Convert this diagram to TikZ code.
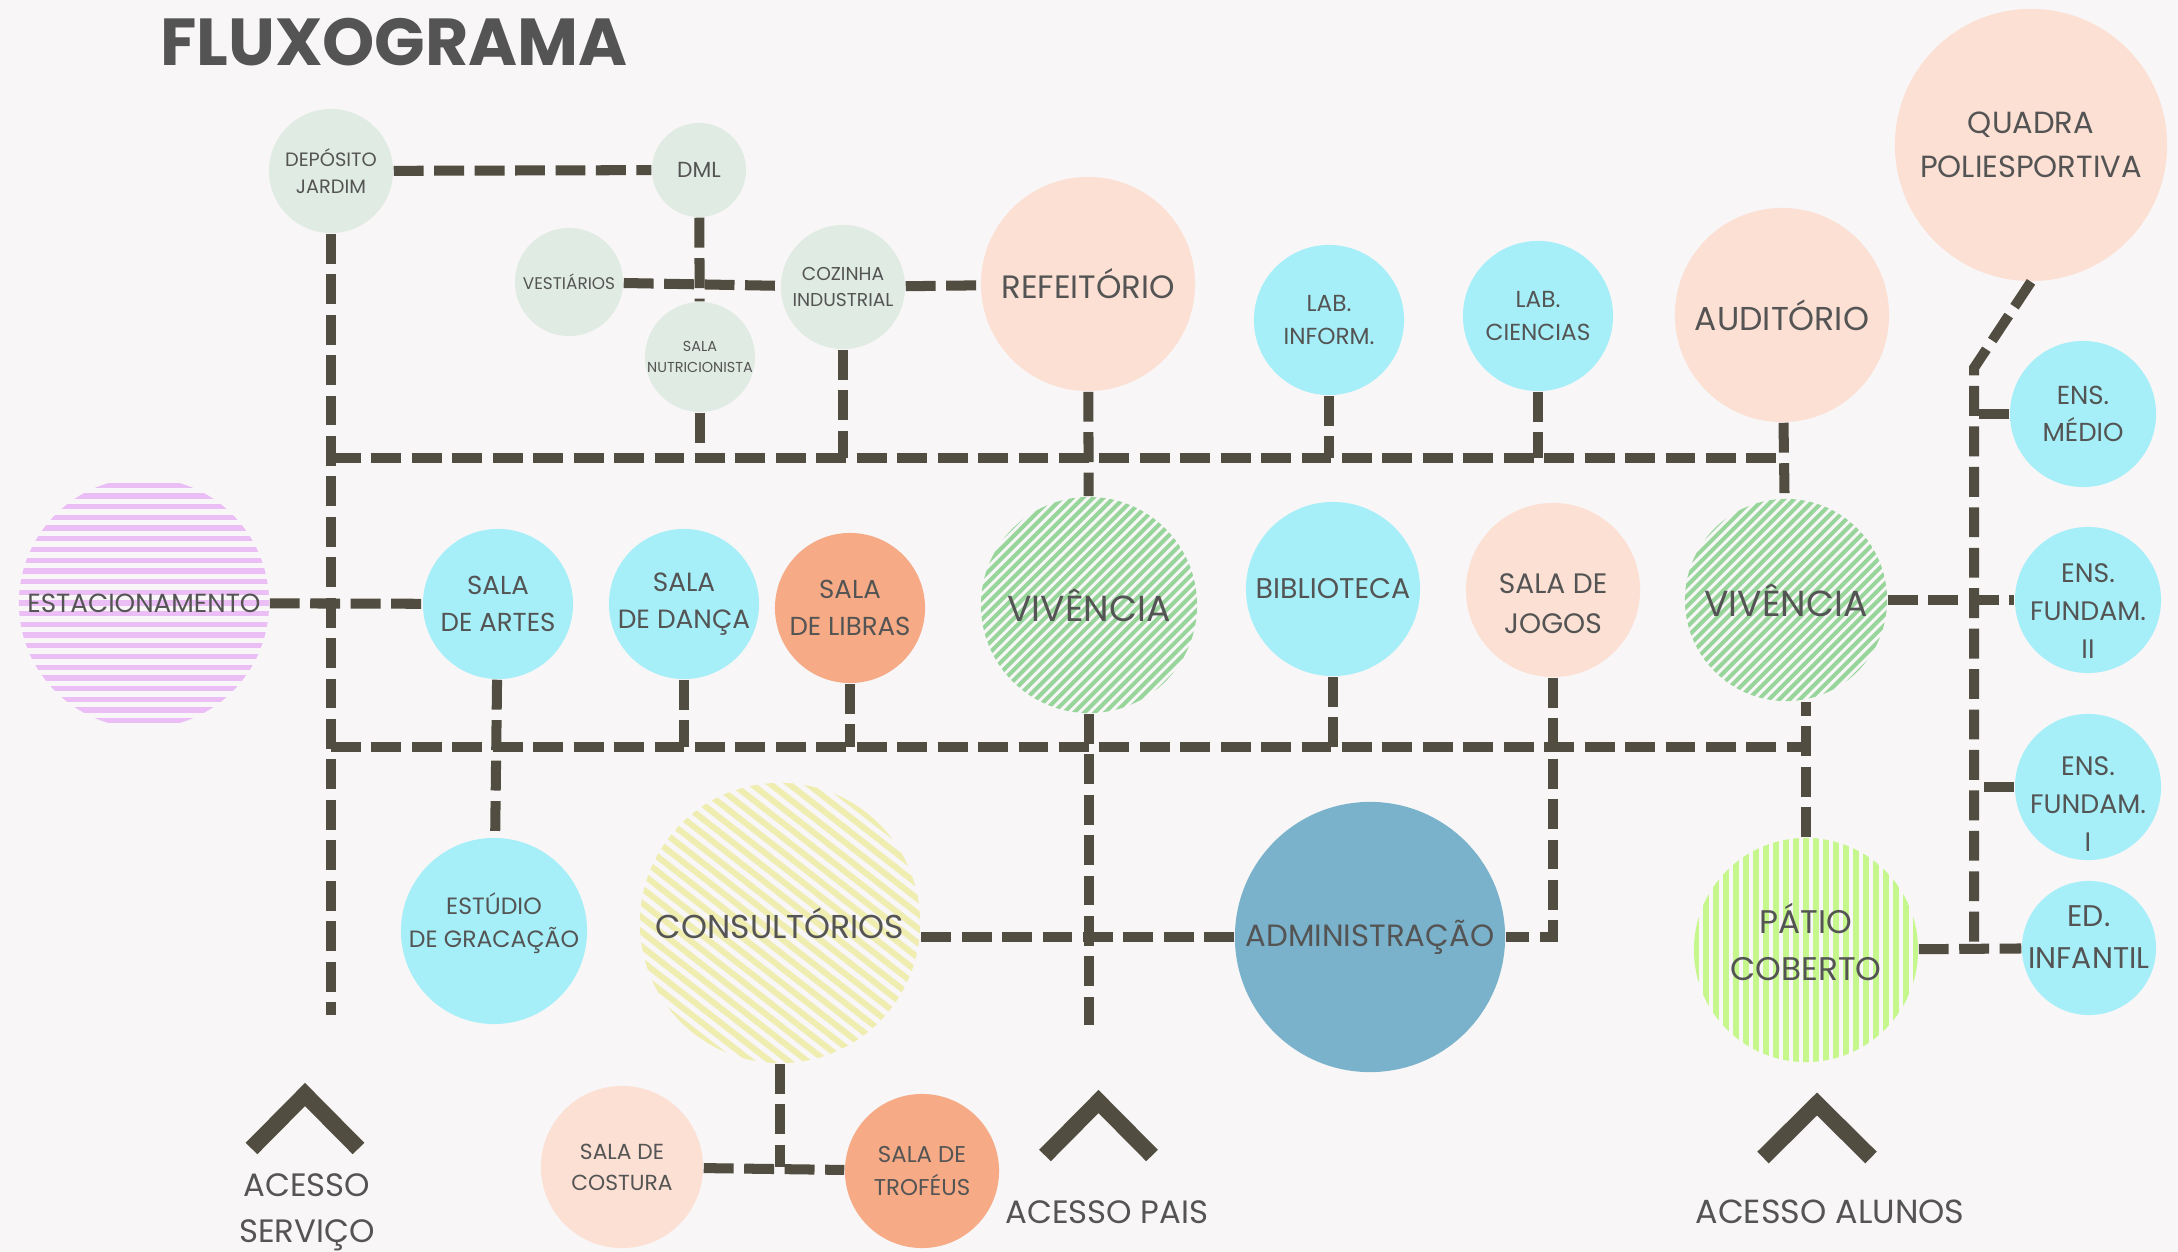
\documentclass[tikz,border=0pt]{standalone}
\usepackage{fontspec}
\setmainfont{Poppins}
\usepackage{tikz}

\definecolor{fundo}{RGB}{248,246,247}
\definecolor{linha}{RGB}{81,77,64}
\definecolor{texto}{RGB}{84,84,84}
\definecolor{servico}{RGB}{224,235,228}
\definecolor{pessego}{RGB}{252,224,212}
\definecolor{ciano}{RGB}{166,239,248}
\definecolor{salmao}{RGB}{246,171,134}
\definecolor{azul}{RGB}{122,178,203}
\definecolor{verde}{RGB}{152,213,155}
\definecolor{amarelo}{RGB}{239,237,176}
\definecolor{lima}{RGB}{197,247,141}
\definecolor{lilas}{RGB}{236,190,246}

\newcommand{\fsz}[1]{\pgfmathsetmacro\lsk{1.43*#1}\fontsize{#1}{\lsk}\selectfont}

\begin{document}
\begin{tikzpicture}[x=0.01cm, y=-0.01cm,
    sala/.style={circle, inner sep=0pt, minimum size=#1*0.02cm, align=center, text=texto},
    ligacao/.style={draw=linha, line width=2.85pt, dash pattern=on 8.5pt off 3pt},
    seta/.style={draw=linha, line width=4.64pt},
    rotulo/.style={align=center, text=texto},
    diagverde/.style={fill=fundo, path picture={
        \foreach \k in {-16,...,16}
            \draw[verde, line width=1.15pt] ([shift={(\k*10.3-150,150)}]path picture bounding box.center) -- ++(300,-300);}},
    diagamarelo/.style={fill=fundo, path picture={
        \foreach \k in {-13,...,13}
            \draw[amarelo, line width=1.7pt] ([shift={(-200,\k*14.6-156)}]path picture bounding box.center) -- ++(400,312);}},
    vertlima/.style={fill=fundo, path picture={
        \foreach \k in {-12,...,12}
            \draw[lima, line width=1.56pt] ([shift={(\k*10,-130)}]path picture bounding box.center) -- ++(0,260);}},
    horizlilas/.style={fill=fundo, path picture={
        \foreach \k in {-12,...,12}
            \draw[lilas, line width=1.5pt] ([shift={(-140,\k*10.7)}]path picture bounding box.center) -- ++(280,0);}}]

    \fill[fundo] (0,0) rectangle (2178,1252);
    \useasboundingbox (0,0) rectangle (2178,1252);

    \node[text=texto, font=\bfseries\fsz{18.9}] (titulo) at (394,42) {FLUXOGRAMA};

    \node[sala=62, fill=servico, font=\fsz{5.5}] (deposito) at (331,171) {DEPÓSITO\\JARDIM};
    \node[sala=47, fill=servico, font=\fsz{6.2}] (dml) at (699,170) {DML};
    \node[sala=54, fill=servico, font=\fsz{4.8}] (vestiarios) at (569,282) {VESTIÁRIOS};
    \node[sala=51, fill=servico, font=\fsz{4.1}] (nutri) at (700,357) {SALA\\NUTRICIONISTA};
    \node[sala=62, fill=servico, font=\fsz{5.3}] (cozinha) at (843,287) {COZINHA\\INDUSTRIAL};
    \node[sala=107, fill=pessego, font=\fsz{9.2}] (refeitorio) at (1088,284) {REFEITÓRIO};
    \node[sala=75, fill=ciano, font=\fsz{6.6}] (labinf) at (1329,320) {LAB.\\INFORM.};
    \node[sala=75, fill=ciano, font=\fsz{6.6}] (labcien) at (1538,316) {LAB.\\CIENCIAS};
    \node[sala=107, fill=pessego, font=\fsz{9.4}] (auditorio) at (1782,315) {AUDITÓRIO};
    \node[sala=136, fill=pessego, font=\fsz{8.7}] (quadra) at (2031,145) {QUADRA\\POLIESPORTIVA};
    \node[sala=73, fill=ciano, font=\fsz{7.4}] (medio) at (2083,414) {ENS.\\MÉDIO};

    \node[sala=125, horizlilas, font=\fsz{7.45}] (estac) at (144,603) {ESTACIONAMENTO};
    \node[sala=75, fill=ciano, font=\fsz{7.4}] (artes) at (498,604) {SALA\\DE ARTES};
    \node[sala=75, fill=ciano, font=\fsz{7.5}] (danca) at (684,604) {SALA\\DE DANÇA};
    \node[sala=75, fill=salmao, font=\fsz{7.4}] (libras) at (850,608) {SALA\\DE LIBRAS};
    \node[sala=108, diagverde, font=\fsz{10.3}] (vivenciaA) at (1089,605) {VIVÊNCIA};
    \node[sala=87, fill=ciano, font=\fsz{8.1}] (biblioteca) at (1333,589) {BIBLIOTECA};
    \node[sala=87, fill=pessego, label={[rotulo, font=\fsz{8}, yshift=-0.14cm]center:{SALA DE\\JOGOS}}] (jogos) at (1553,590) {};
    \node[sala=101, diagverde, font=\fsz{10.3}] (vivenciaB) at (1786,600) {VIVÊNCIA};
    \node[sala=73, fill=ciano, label={[rotulo, font=\fsz{7.6}, yshift=-0.11cm]center:{ENS.\\FUNDAM.\\II}}] (fundII) at (2088,600) {};
    \node[sala=73, fill=ciano, label={[rotulo, font=\fsz{7.6}, yshift=-0.17cm]center:{ENS.\\FUNDAM.\\I}}] (fundI) at (2088,787) {};

    \node[sala=93, fill=ciano, label={[rotulo, font=\fsz{6.7}, yshift=0.08cm]center:{ESTÚDIO\\DE GRACAÇÃO}}] (estudio) at (494,931) {};
    \node[sala=140, diagamarelo, font=\fsz{9.4}] (consult) at (780,923) {CONSULTÓRIOS};
    \node[sala=135, fill=azul, font=\fsz{8.75}] (admin) at (1370,937) {ADMINISTRAÇÃO};
    \node[sala=112, vertlima, label={[rotulo, font=\fsz{9.3}, yshift=0.08cm]center:{PÁTIO\\COBERTO}}] (patio) at (1806,950) {};
    \node[sala=67, fill=ciano, label={[rotulo, font=\fsz{8.5}, yshift=0.11cm]center:{ED.\\INFANTIL}}] (edinf) at (2089,948) {};
    \node[sala=81, fill=pessego, font=\fsz{6.2}] (costura) at (622,1167) {SALA DE\\COSTURA};
    \node[sala=77, fill=salmao, font=\fsz{6.5}] (trofeus) at (922,1171) {SALA DE\\TROFÉUS};

    \node[rotulo, font=\fsz{9.2}] (acserv) at (307,1212) {ACESSO\\SERVIÇO};
    \node[rotulo, font=\fsz{9.2}] (acpais) at (1107,1212) {ACESSO PAIS};
    \node[rotulo, font=\fsz{9.5}] (acalunos) at (1830,1212) {ACESSO ALUNOS};

    \draw[seta] (251.5,1148.5) -- (305,1094.5) -- (358.5,1148.5);
    \draw[seta] (1045,1155.5) -- (1098.5,1101.5) -- (1152,1155.5);
    \draw[seta] (1763,1157.5) -- (1817,1104) -- (1871,1157.5);

    \coordinate (cantoA) at (331,458);
    \coordinate (cantoB) at (331,747);
    \coordinate (fimserv) at (331,1015);
    \coordinate (fimpais) at (1089,1025);
    \coordinate (dobra) at (1974,368);

    \draw[ligacao] (deposito) -- (dml);
    \draw[ligacao] (deposito) -- (fimserv);
    \draw[ligacao] (dml) -- (nutri);
    \draw[ligacao] (vestiarios) -- (cozinha);
    \draw[ligacao] (cozinha) -- (refeitorio);
    \draw[ligacao] (cantoA) -- (cantoA -| auditorio);
    \draw[ligacao] (nutri) -- (nutri |- cantoA);
    \draw[ligacao] (cozinha) -- (cozinha |- cantoA);
    \draw[ligacao] (refeitorio) -- (vivenciaA);
    \draw[ligacao] (labinf) -- (labinf |- cantoA);
    \draw[ligacao] (labcien) -- (labcien |- cantoA);
    \draw[ligacao] (auditorio) -- (vivenciaB);
    \draw[ligacao] (estac) -- (artes);
    \draw[ligacao] (cantoB) -- (cantoB -| patio);
    \draw[ligacao] (artes) -- (estudio);
    \draw[ligacao] (danca) -- (danca |- cantoB);
    \draw[ligacao] (libras) -- (libras |- cantoB);
    \draw[ligacao] (vivenciaA) -- (fimpais);
    \draw[ligacao] (biblioteca) -- (biblioteca |- cantoB);
    \draw[ligacao] (jogos) |- (admin);
    \draw[ligacao] (patio) -- (patio |- vivenciaB.south);
    \draw[ligacao] (admin) -- (admin -| consult.east);
    \draw[ligacao] (consult) -- (consult |- costura);
    \draw[ligacao] (costura) -- (trofeus);
    \draw[ligacao] (quadra.south) -- (dobra) -- (dobra |- patio);
    \draw[ligacao] (medio) -- (medio -| dobra);
    \draw[ligacao] (vivenciaB) -- (fundII);
    \draw[ligacao] (fundI) -- (fundI -| dobra);
    \draw[ligacao] (patio) -- (edinf);

\end{tikzpicture}
\end{document}
